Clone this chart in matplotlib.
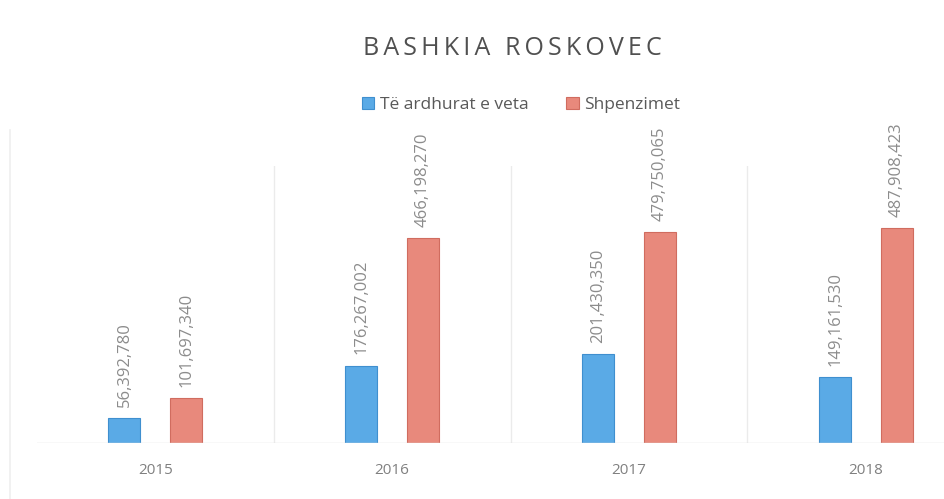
import numpy as np
import matplotlib.pyplot as plt
from matplotlib.lines import Line2D

plt.rcParams['font.family'] = ['Open Sans', 'DejaVu Sans']

# Të ardhurat dhe shpenzimet e Bashkisë Roskovec
vitet = ["2015", "2016", "2017", "2018"]
te_ardhurat = np.array([56392780, 176267002, 201430350, 149161530])
shpenzimet = np.array([101697340, 466198270, 479750065, 487908423])

blu = "#5aaae6"
kuq = "#e8897c"
gri = "#595959"

fig = plt.figure(figsize=(9.44, 4.99), dpi=100)
ax = fig.add_axes([0.039, 0.112, 0.961, 0.555])

x = np.arange(len(vitet))
gjeresia = 0.135
zhvendosja = 0.13

b1 = ax.bar(x - zhvendosja, te_ardhurat, gjeresia, color=blu, edgecolor="#3f8fcf",
            linewidth=0.8, label="Të ardhurat e veta")
b2 = ax.bar(x + zhvendosja, shpenzimet, gjeresia, color=kuq, edgecolor="#d06c5f",
            linewidth=0.8, label="Shpenzimet")

# vlerat mbi shtylla, vertikalisht
for shtyllat in (b1, b2):
    for s in shtyllat:
        h = s.get_height()
        ax.annotate(f"{h:,.0f}", (s.get_x() + s.get_width() / 2, h),
                    xytext=(0, 8), textcoords="offset points", rotation=90,
                    ha="center", va="bottom", fontsize=12, color="#8c8c8c",
                    clip_on=False)

ax.set_xlim(-0.5, 3.33)
ax.set_ylim(0, 629e6)

# ndarëset midis kategorive
for v in [0.5, 1.5, 2.5]:
    ax.axvline(v, ymin=0, ymax=1.0, color="#ebebeb", linewidth=1)
ax.axhline(0, color="#dedede", linewidth=1)

# korniza e lehtë majtas
fig.add_artist(Line2D([0.011, 0.011], [0.0, 0.74], transform=fig.transFigure,
                      color="#efefef", linewidth=1.2))

for s in ax.spines.values():
    s.set_visible(False)
ax.set_yticks([])
ax.set_xticks(x)
ax.set_xticklabels(vitet, fontsize=11, color="#808080")
ax.tick_params(axis="x", length=0, pad=14)

titulli = "\u2009".join("BASHKIA ROSKOVEC")
fig.text(0.543, 0.903, titulli, ha="center", va="center",
         fontsize=18, color="#505050")
fig.legend(loc="center", bbox_to_anchor=(0.552, 0.79), ncol=2, frameon=False,
           fontsize=12.5, labelcolor=gri, handlelength=0.7, handleheight=0.7,
           handletextpad=0.3, columnspacing=2.2)

fig.savefig("out.png", dpi=100)
